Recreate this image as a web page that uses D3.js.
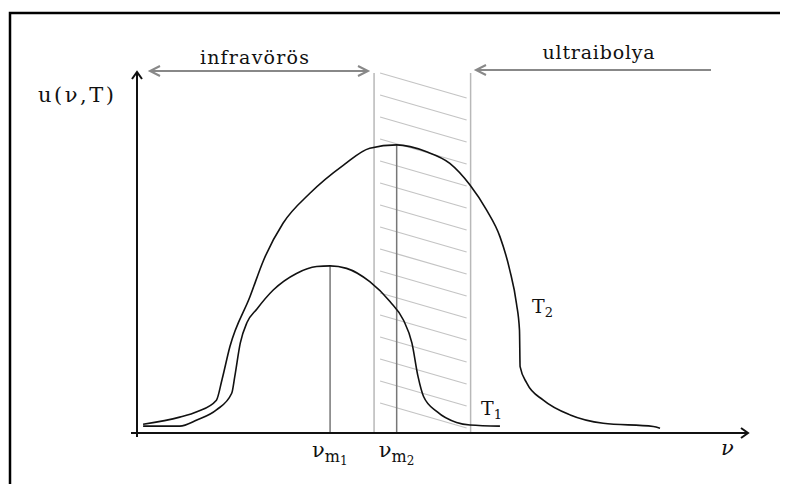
<!DOCTYPE html>
<html>
<head>
<meta charset="utf-8">
<script src="https://cdn.jsdelivr.net/npm/d3@7"></script>
<style>
  body { margin: 0; background: #fff; }
  text { font-family: "DejaVu Serif", serif; fill: #111; }
</style>
</head>
<body>
<div id="chart"></div>
<script>
// frequency (arbitrary units, 0..100) and spectral density u for the two temperatures
var t2Freq = [1.0, 7.0, 9.8, 13.0, 13.9, 15.2, 18.5, 20.7, 23.9, 28.3, 33.8, 38.1, 42.5,
              47.4, 51.2, 54.5, 57.2, 59.4, 61.0, 62.1, 62.6, 62.7, 63.8, 66.5, 70.9, 76.3, 84.5, 85.6];
var t2U    = [2.4, 4.4, 5.9, 9.1, 14.7, 23.9, 37.8, 47.8, 58.1, 66.4, 74.2, 78.9, 79.8,
              77.9, 74.7, 68.7, 61.8, 54.4, 45.2, 35.9, 28.5, 18.4, 13.8, 9.1, 5.0, 2.7, 1.8, 1.3];
var t1Freq = [1.0, 7.0, 9.8, 13.0, 15.5, 16.0, 16.9, 18.0, 19.6, 22.3, 26.1, 29.4, 31.6, 34.3,
              38.1, 41.4, 43.6, 45.0, 46.0, 46.9, 49.1, 52.3, 54.5, 59.4];
var t1U    = [1.9, 1.9, 3.6, 6.4, 11.0, 15.6, 24.9, 30.6, 34.3, 39.6, 44.2, 46.1, 46.3, 45.6,
              41.9, 36.4, 31.3, 24.9, 15.6, 10.1, 5.9, 2.9, 2.2, 1.9];
var peakFreq = [31.6, 42.5];     // nu_m1, nu_m2
var peakU    = [46.3, 79.8];
var peakSub  = ["1", "2"];
var bandFreq = [38.8, 54.6];     // visible band edges
var hatchCount = 16;

var W = 790, H = 484;
var svg = d3.select("#chart").append("svg")
    .attr("width", W).attr("height", H);

var x = d3.scaleLinear().domain([0, 100]).range([137, 748]);
var y = d3.scaleLinear().domain([0, 100]).range([433, 72]);

// frame
svg.append("path")
    .attr("d", "M10," + H + " L10,13 L780,13")
    .attr("fill", "none").attr("stroke", "#000").attr("stroke-width", 2.5);

// hatched band
var bandTop = y.invert(73), step = (y.invert(73) - y.invert(95));
var hatch = d3.range(hatchCount).map(function(i) { return bandTop - i * step; });
svg.selectAll(".hatch")
  .data(hatch)
  .enter().append("line")
    .attr("x1", x(bandFreq[0]) + 6)
    .attr("x2", x(bandFreq[1]) - 4)
    .attr("y1", function(d) { return y(d); })
    .attr("y2", function(d) { return y(d) + 25; })
    .attr("stroke", "#c4c4c4").attr("stroke-width", 1.3);

svg.selectAll(".band")
  .data(bandFreq)
  .enter().append("line")
    .attr("x1", function(d) { return x(d); })
    .attr("x2", function(d) { return x(d); })
    .attr("y1", y(99.7)).attr("y2", y(0))
    .attr("stroke", "#b8b8b8").attr("stroke-width", 1.5);

// peak markers
svg.selectAll(".peak")
  .data(peakFreq)
  .enter().append("line")
    .attr("x1", function(d) { return x(d); })
    .attr("x2", function(d) { return x(d); })
    .attr("y1", function(d, i) { return y(peakU[i]); })
    .attr("y2", y(0))
    .attr("stroke", "#777").attr("stroke-width", 1.5);

// curves
var line = d3.line()
    .x(function(d) { return x(d[0]); })
    .y(function(d) { return y(d[1]); })
    .curve(d3.curveMonotoneX);

[[t2Freq, t2U], [t1Freq, t1U]].forEach(function(s) {
  svg.append("path")
    .datum(d3.zip(s[0], s[1]))
    .attr("d", line)
    .attr("fill", "none").attr("stroke", "#111").attr("stroke-width", 1.6);
});

// axes
var ax = svg.append("g").attr("stroke", "#111").attr("stroke-width", 2).attr("fill", "none");
ax.append("line").attr("x1", x(0)).attr("x2", x(100)).attr("y1", y(0)).attr("y2", y(0));
ax.append("line").attr("x1", x(0)).attr("x2", x(0)).attr("y1", y(0) + 4).attr("y2", y(100));
ax.append("line").attr("x1", x(0) - 6).attr("x2", x(0)).attr("y1", y(0)).attr("y2", y(0));
ax.append("path").attr("d", "M" + (x(100) - 7) + "," + (y(0) - 5) + " L" + x(100) + "," + y(0) + " L" + (x(100) - 7) + "," + (y(0) + 5));
ax.append("path").attr("d", "M" + (x(0) - 5) + "," + (y(100) + 7) + " L" + x(0) + "," + y(100) + " L" + (x(0) + 5) + "," + (y(100) + 7));

// range arrows
var ar = svg.append("g").attr("stroke", "#888").attr("stroke-width", 2).attr("fill", "none");
function arrowHead(px, py, dir) {
  ar.append("path").attr("d", "M" + (px + dir * 10) + "," + (py - 5) + " L" + px + "," + py + " L" + (px + dir * 10) + "," + (py + 5));
}
ar.append("line").attr("x1", 150).attr("x2", 368).attr("y1", 71).attr("y2", 71);
arrowHead(150, 71, 1);
arrowHead(368, 71, -1);
ar.append("line").attr("x1", 476).attr("x2", 711).attr("y1", 70).attr("y2", 70);
arrowHead(476, 70, 1);

// labels
svg.append("text").attr("x", 255).attr("y", 64).attr("text-anchor", "middle")
    .style("font-size", "19px").style("letter-spacing", "1.2px").text("infravörös");
svg.append("text").attr("x", 599).attr("y", 59).attr("text-anchor", "middle")
    .style("font-size", "19px").style("letter-spacing", "0.8px").text("ultraibolya");
svg.append("text").attr("x", 38).attr("y", 102)
    .style("font-size", "21px").style("letter-spacing", "2.5px").text("u(ν,T)");

svg.selectAll(".pl")
  .data(peakFreq)
  .enter().append("text")
    .attr("x", function(d) { return x(d) - 18; })
    .attr("y", 457)
    .style("font-size", "21px")
    .each(function(d, i) {
      var t = d3.select(this);
      t.append("tspan").text("ν");
      t.append("tspan").attr("dy", 5).style("font-size", "16px").text("m");
      t.append("tspan").attr("dy", 3).style("font-size", "12px").text(peakSub[i]);
    });

function tLabel(px, py, sub) {
  var t = svg.append("text").attr("x", px).attr("y", py).style("font-size", "19px");
  t.append("tspan").text("T");
  t.append("tspan").attr("dy", 4).style("font-size", "13px").text(sub);
}
tLabel(481, 415, "1");
tLabel(532, 313, "2");

svg.append("text").attr("x", 721).attr("y", 455)
    .style("font-size", "21px").style("font-style", "italic").text("ν");
</script>
</body>
</html>
